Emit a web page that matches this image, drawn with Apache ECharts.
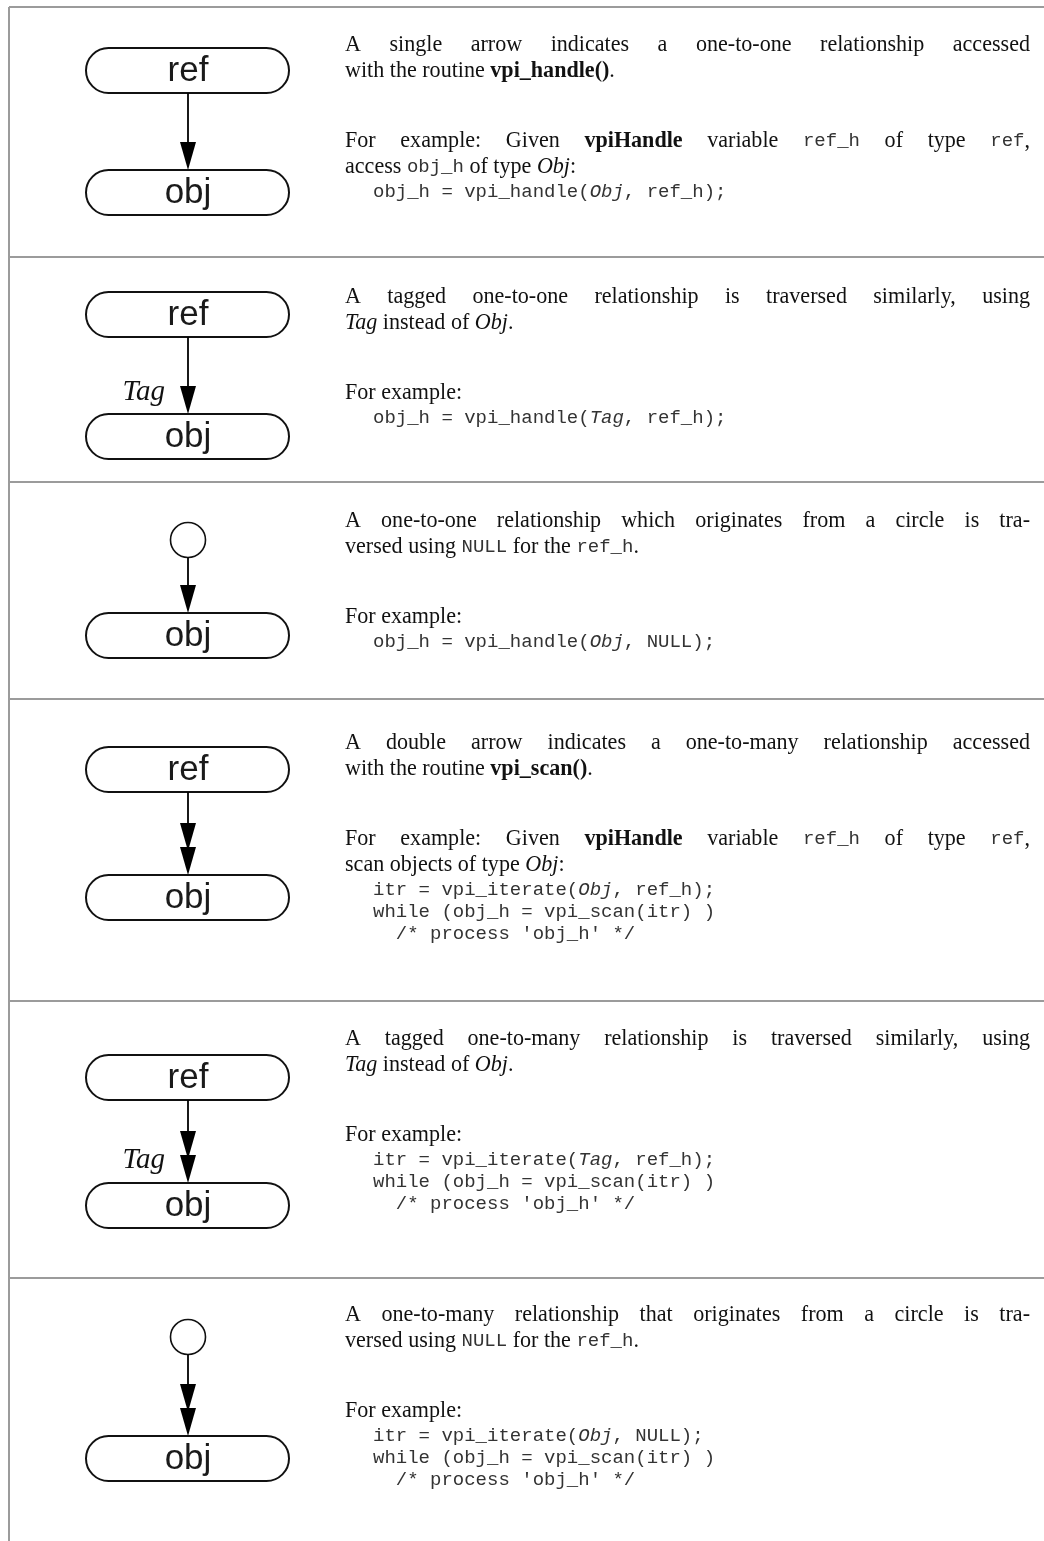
<!DOCTYPE html>
<html><head><meta charset="utf-8">
<script src="https://cdn.jsdelivr.net/npm/echarts@6/dist/echarts.min.js"></script>
<style>html,body{margin:0;padding:0;background:#fff}#c{width:1044px;height:1541px}</style>
</head><body><div id="c"></div>
<script>
// ---------- content ----------
const refLabel = 'ref';
const objLabel = 'obj';
const tagLabel = 'Tag';
const rowSource = ['ref', 'ref', 'circle', 'ref', 'ref', 'circle'];
const rowArrowCount = [1, 1, 1, 2, 2, 2];
const rowTagged = [false, true, false, false, true, false];

const desc1 = [
  {j: true, s: [['n', 'A single arrow indicates a one-to-one relationship accessed']]},
  {s: [['n', 'with the routine '], ['b', 'vpi_handle()'], ['n', '.']]},
  {gap: true},
  {j: true, s: [['n', 'For example: Given '], ['b', 'vpiHandle'], ['n', ' variable '], ['m', 'ref_h'], ['n', ' of type '], ['m', 'ref'], ['n', ',']]},
  {s: [['n', 'access '], ['m', 'obj_h'], ['n', ' of type '], ['i', 'Obj'], ['n', ':']]},
  {code: true, s: [['c', 'obj_h = vpi_handle('], ['ci', 'Obj'], ['c', ', ref_h);']]}
];
const desc2 = [
  {j: true, s: [['n', 'A tagged one-to-one relationship is traversed similarly, using']]},
  {s: [['i', 'Tag'], ['n', ' instead of '], ['i', 'Obj'], ['n', '.']]},
  {gap: true},
  {s: [['n', 'For example:']]},
  {code: true, s: [['c', 'obj_h = vpi_handle('], ['ci', 'Tag'], ['c', ', ref_h);']]}
];
const desc3 = [
  {j: true, s: [['n', 'A one-to-one relationship which originates from a circle is tra-']]},
  {s: [['n', 'versed using '], ['m', 'NULL'], ['n', ' for the '], ['m', 'ref_h'], ['n', '.']]},
  {gap: true},
  {s: [['n', 'For example:']]},
  {code: true, s: [['c', 'obj_h = vpi_handle('], ['ci', 'Obj'], ['c', ', NULL);']]}
];
const desc4 = [
  {j: true, s: [['n', 'A double arrow indicates a one-to-many relationship accessed']]},
  {s: [['n', 'with the routine '], ['b', 'vpi_scan()'], ['n', '.']]},
  {gap: true},
  {j: true, s: [['n', 'For example: Given '], ['b', 'vpiHandle'], ['n', ' variable '], ['m', 'ref_h'], ['n', ' of type '], ['m', 'ref'], ['n', ',']]},
  {s: [['n', 'scan objects of type '], ['i', 'Obj'], ['n', ':']]},
  {code: true, s: [['c', 'itr = vpi_iterate('], ['ci', 'Obj'], ['c', ', ref_h);']]},
  {code: true, s: [['c', 'while (obj_h = vpi_scan(itr) )']]},
  {code: true, s: [['c', "  /* process 'obj_h' */"]]}
];
const desc5 = [
  {j: true, s: [['n', 'A tagged one-to-many relationship is traversed similarly, using']]},
  {s: [['i', 'Tag'], ['n', ' instead of '], ['i', 'Obj'], ['n', '.']]},
  {gap: true},
  {s: [['n', 'For example:']]},
  {code: true, s: [['c', 'itr = vpi_iterate('], ['ci', 'Tag'], ['c', ', ref_h);']]},
  {code: true, s: [['c', 'while (obj_h = vpi_scan(itr) )']]},
  {code: true, s: [['c', "  /* process 'obj_h' */"]]}
];
const desc6 = [
  {j: true, s: [['n', 'A one-to-many relationship that originates from a circle is tra-']]},
  {s: [['n', 'versed using '], ['m', 'NULL'], ['n', ' for the '], ['m', 'ref_h'], ['n', '.']]},
  {gap: true},
  {s: [['n', 'For example:']]},
  {code: true, s: [['c', 'itr = vpi_iterate('], ['ci', 'Obj'], ['c', ', NULL);']]},
  {code: true, s: [['c', 'while (obj_h = vpi_scan(itr) )']]},
  {code: true, s: [['c', "  /* process 'obj_h' */"]]}
];
const descriptions = [desc1, desc2, desc3, desc4, desc5, desc6];

// ---------- layout ----------
const L = {
  frameLeft: 9, frameTop: 7, frameRight: 1044, frameBottom: 1541,
  sepY: [257, 482, 699, 1001, 1278],
  cx: 188, pillX: 86, pillW: 203, pillH: 45,
  refTop: [48, 292, null, 747, 1055, null],
  objTop: [170, 414, 613, 875, 1183, 1436],
  circleCy: [null, null, 540, null, null, 1337], circleR: 17.5,
  tagCy: [null, 392, null, null, 1160, null], tagRight: 165,
  textTop: [45, 297, 521, 743, 1039, 1315],
  textX: 345, textRight: 1030, codeX: 373,
  lineH: 26, gapH: 44, codeH: 22, codeFirst: 25,
  triH: 28, triHalf: 8, triOverlap: 4
};
const FONTS = {
  n: '24px "Liberation Serif"',
  b: 'bold 24px "Liberation Serif"',
  i: 'italic 24px "Liberation Serif"',
  m: '19px "Liberation Mono"',
  c: '19px "Liberation Mono"',
  ci: 'italic 19px "Liberation Mono"'
};
const SCALEX = {n: 0.92, b: 0.92, i: 0.92, m: 1, c: 1, ci: 1};
const COLORS = {n: '#111', b: '#111', i: '#111', m: '#333', c: '#333', ci: '#333'};

const ctx = document.createElement('canvas').getContext('2d');
function measure(st, t) { ctx.font = FONTS[st]; return ctx.measureText(t).width * SCALEX[st]; }

const els = [];
function txt(x, y, text, st) {
  els.push({type: 'text', x: x, y: y, scaleX: SCALEX[st], silent: true,
    style: {text: text, font: FONTS[st], fill: COLORS[st], textAlign: 'left', textVerticalAlign: 'middle'}});
}
function placeLine(line, y) {
  let x = line.code ? L.codeX : L.textX;
  if (line.j) {
    const words = []; let cur = [];
    line.s.forEach(([st, t]) => {
      t.split(' ').forEach((p, k) => {
        if (k > 0) { if (cur.length) words.push(cur); cur = []; }
        if (p !== '') cur.push([st, p]);
      });
    });
    if (cur.length) words.push(cur);
    const widths = words.map(w => w.reduce((a, [st, p]) => a + measure(st, p), 0));
    const total = widths.reduce((a, b) => a + b, 0);
    const gap = (L.textRight - L.textX - total) / (words.length - 1);
    words.forEach((w, k) => {
      let xx = x;
      w.forEach(([st, p]) => { txt(xx, y, p, st); xx += measure(st, p); });
      x += widths[k] + gap;
    });
  } else {
    line.s.forEach(([st, t]) => {
      const m = t.match(/^ */)[0];
      if (m.length) { x += measure(st, m); t = t.slice(m.length); }
      txt(x, y, t, st);
      x += measure(st, t);
    });
  }
}

// frame
const frameStyle = {stroke: '#9b9b9b', lineWidth: 2};
els.push({type: 'line', silent: true, shape: {x1: L.frameLeft, y1: L.frameTop, x2: L.frameRight, y2: L.frameTop}, style: frameStyle});
els.push({type: 'line', silent: true, shape: {x1: L.frameLeft, y1: L.frameTop, x2: L.frameLeft, y2: L.frameBottom}, style: frameStyle});
L.sepY.forEach(y => els.push({type: 'line', silent: true, shape: {x1: L.frameLeft, y1: y, x2: L.frameRight, y2: y}, style: frameStyle}));

function pill(top, label) {
  els.push({type: 'rect', silent: true, shape: {x: L.pillX, y: top, width: L.pillW, height: L.pillH, r: L.pillH / 2},
    style: {fill: '#fff', stroke: '#111', lineWidth: 2}});
  els.push({type: 'text', silent: true, x: L.cx, y: top + L.pillH / 2 + 1,
    style: {text: label, font: '35px "Liberation Sans"', fill: '#1a1a1a', textAlign: 'center', textVerticalAlign: 'middle'}});
}
function tri(base, tip) {
  els.push({type: 'polygon', silent: true, shape: {points: [[L.cx - L.triHalf, base], [L.cx + L.triHalf, base], [L.cx, tip]]},
    style: {fill: '#000'}});
}

for (let r = 0; r < 6; r++) {
  const objTop = L.objTop[r];
  let startY;
  if (rowSource[r] === 'ref') {
    pill(L.refTop[r], refLabel);
    startY = L.refTop[r] + L.pillH;
  } else {
    els.push({type: 'circle', silent: true, shape: {cx: L.cx, cy: L.circleCy[r], r: L.circleR},
      style: {fill: '#fff', stroke: '#111', lineWidth: 1.6}});
    startY = L.circleCy[r] + L.circleR;
  }
  const n = rowArrowCount[r];
  let tip = objTop, firstBase = objTop - L.triH;
  const heads = [];
  for (let k = 0; k < n; k++) {
    heads.push([tip - L.triH, tip]);
    firstBase = tip - L.triH;
    tip = tip - L.triH + L.triOverlap;
  }
  els.push({type: 'line', silent: true, shape: {x1: L.cx, y1: startY, x2: L.cx, y2: firstBase + 2},
    style: {stroke: '#000', lineWidth: 1.8}});
  heads.forEach(([b, t]) => tri(b, t));
  pill(objTop, objLabel);
  if (rowTagged[r]) {
    els.push({type: 'text', silent: true, x: L.tagRight, y: L.tagCy[r],
      style: {text: tagLabel, font: 'italic 29px "Liberation Serif"', fill: '#111', textAlign: 'right', textVerticalAlign: 'middle'}});
  }
  let y = L.textTop[r], prevCode = false, first = true;
  descriptions[r].forEach(line => {
    if (line.gap) { y += L.gapH; return; }
    if (!first) y += line.code ? (prevCode ? L.codeH : L.codeFirst) : L.lineH;
    placeLine(line, y);
    prevCode = !!line.code; first = false;
  });
}

const chart = echarts.init(document.getElementById('c'), null, {renderer: 'canvas'});
chart.setOption({animation: false, graphic: {elements: els}});
</script>
</body></html>
